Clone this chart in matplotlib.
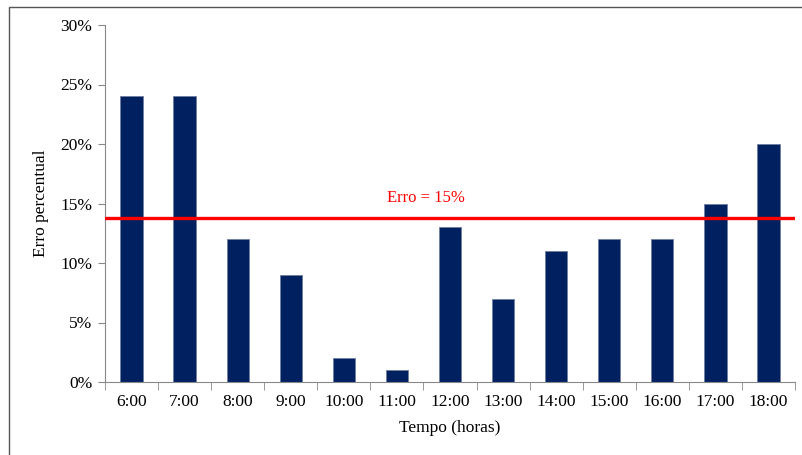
import numpy as np
import matplotlib
matplotlib.use('Agg')
import matplotlib.pyplot as plt
from matplotlib.patches import Rectangle
from matplotlib.ticker import FuncFormatter

plt.rcParams['font.family'] = ['Liberation Serif', 'DejaVu Serif']

horas = ['6:00', '7:00', '8:00', '9:00', '10:00', '11:00', '12:00',
         '13:00', '14:00', '15:00', '16:00', '17:00', '18:00']
erro = [24, 24, 12, 9, 2, 1, 13, 7, 11, 12, 12, 15, 20]
limite = 13.8
limite_txt = 'Erro = 15%'

fig = plt.figure(figsize=(8.03, 4.55), dpi=100)
ax = fig.add_axes([105 / 803, 1 - 382 / 455, 690 / 803, 357 / 455])

# moldura do gráfico
fig.patches.append(Rectangle((9 / 803, -0.1), 1.2, 1 - 7 / 455 + 0.1,
                             transform=fig.transFigure, fill=False,
                             edgecolor='#555555', lw=1))

x = np.arange(len(horas))
ax.bar(x, erro, width=0.42, color='#002060', edgecolor='#6f7f9f', lw=0.6, zorder=2)
ax.axhline(limite, color='#ff0000', lw=2.4, zorder=3)
ax.text(6 - 0.45, limite + 1.0, limite_txt, color='#ff0000', fontsize=12,
        ha='center', va='bottom')

ax.set_xlim(-0.5, len(horas) - 0.5)
ax.set_ylim(0, 30)
ax.set_yticks(range(0, 31, 5))
ax.yaxis.set_major_formatter(FuncFormatter(lambda v, p: '%d%%' % v))
ax.set_xticks(x)
ax.set_xticklabels(horas)
ax.set_xticks(np.arange(-0.5, len(horas), 1), minor=True)
ax.tick_params(axis='x', which='major', length=0, pad=9, labelsize=12.5)
ax.tick_params(axis='x', which='minor', length=6, color='#888888')
ax.tick_params(axis='y', length=5, color='#888888', labelsize=12.5, pad=4)

for s in ['top', 'right']:
    ax.spines[s].set_visible(False)
for s in ['left', 'bottom']:
    ax.spines[s].set_color('#888888')

ax.set_xlabel('Tempo (horas)', fontsize=12.5, labelpad=7)
ax.set_ylabel('Erro percentual', fontsize=12.5, labelpad=8)

fig.savefig('out.png', dpi=100)
